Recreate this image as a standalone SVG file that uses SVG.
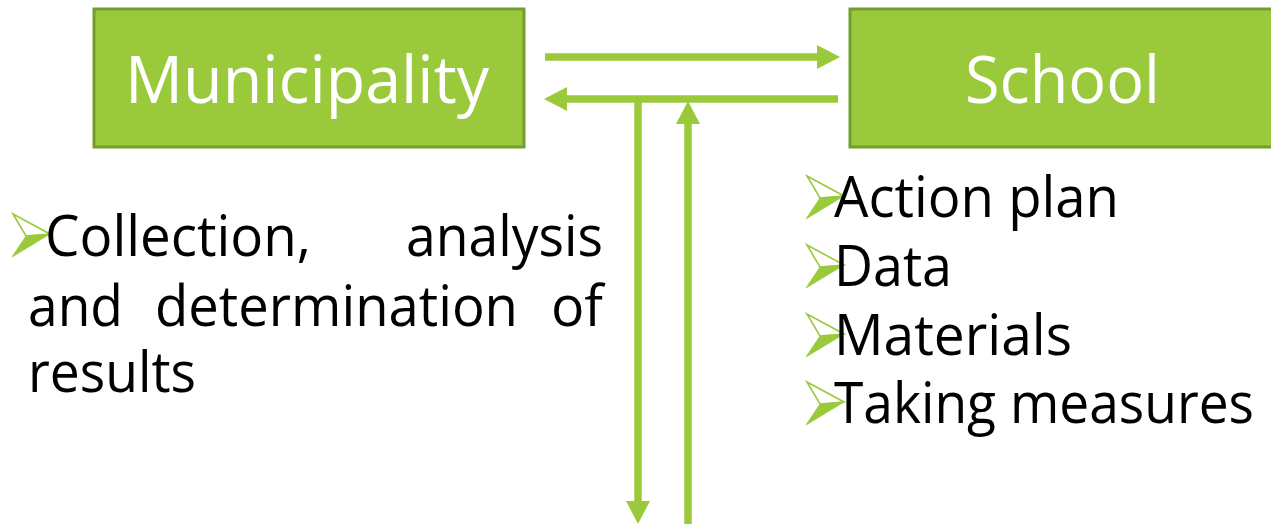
<svg xmlns="http://www.w3.org/2000/svg" width="1271" height="524" viewBox="0 0 1271 524">
<defs>
<style>
.box{fill:#9ACA3C;stroke:#739D2C;stroke-width:3}
.lbl{font-family:"Open Sans","Noto Sans","Liberation Sans",sans-serif;font-size:65px;fill:#FFFFFF}
.txt{font-family:"Open Sans","Noto Sans","Liberation Sans",sans-serif;font-size:56px;fill:#000000}
.con{stroke:#9ACA3C;stroke-width:7.5;fill:none}
.bu{fill:#FFFFFF;stroke:#9ACA3C;stroke-width:1.6;stroke-linejoin:miter}
.bl{fill:#9ACA3C;stroke:#9ACA3C;stroke-width:0.8}
</style>
<marker id="ah" markerUnits="userSpaceOnUse" markerWidth="24" markerHeight="24" refX="0" refY="12" orient="auto">
<path d="M0,0 L23,12 L0,24 Z" fill="#9ACA3C"/>
</marker>
<g id="bullet">
<path class="bu" d="M1,-42 L38,-22 L14,-20 Z"/>
<path class="bl" d="M14,-20 L38,-22 L0,1 Z"/>
</g>
</defs>
<rect width="1271" height="524" fill="#FFFFFF"/>
<g id="municipality">
<rect class="box" x="94" y="9" width="430" height="138"/>
<text class="lbl" x="125" y="103" textLength="364" lengthAdjust="spacingAndGlyphs">Municipality</text>
</g>
<g id="school">
<rect class="box" x="850" y="9" width="440" height="138"/>
<text class="lbl" x="965" y="103" textLength="195" lengthAdjust="spacingAndGlyphs">School</text>
</g>
<g id="municipality-notes">
<use href="#bullet" x="12" y="256"/>
<text class="txt" x="45" y="256" textLength="266" lengthAdjust="spacingAndGlyphs">Collection,</text>
<text class="txt" x="603" y="256" text-anchor="end" textLength="197" lengthAdjust="spacingAndGlyphs">analysis</text>
<text class="txt" x="28" y="326" textLength="95" lengthAdjust="spacingAndGlyphs">and</text>
<text class="txt" x="155" y="326" textLength="363" lengthAdjust="spacingAndGlyphs">determination</text>
<text class="txt" x="603" y="326" text-anchor="end" textLength="52" lengthAdjust="spacingAndGlyphs">of</text>
<text class="txt" x="28" y="392" textLength="168" lengthAdjust="spacingAndGlyphs">results</text>
</g>
<g id="school-notes">
<use href="#bullet" x="806" y="218"/>
<text class="txt" x="834" y="217" textLength="285" lengthAdjust="spacingAndGlyphs">Action plan</text>
<use href="#bullet" x="806" y="287"/>
<text class="txt" x="834" y="286" textLength="118" lengthAdjust="spacingAndGlyphs">Data</text>
<use href="#bullet" x="806" y="356"/>
<text class="txt" x="834" y="355" textLength="238" lengthAdjust="spacingAndGlyphs">Materials</text>
<use href="#bullet" x="806" y="424"/>
<text class="txt" x="834" y="423" textLength="420" lengthAdjust="spacingAndGlyphs">Taking measures</text>
</g>
<g id="connectors">
<path class="con" d="M545,57 L817,57" marker-end="url(#ah)"/>
<path class="con" d="M838,99 L567,99" marker-end="url(#ah)"/>
<path class="con" d="M638,99 L638,501" marker-end="url(#ah)"/>
<path class="con" d="M688,524 L688,124" marker-end="url(#ah)"/>
</g>
</svg>
